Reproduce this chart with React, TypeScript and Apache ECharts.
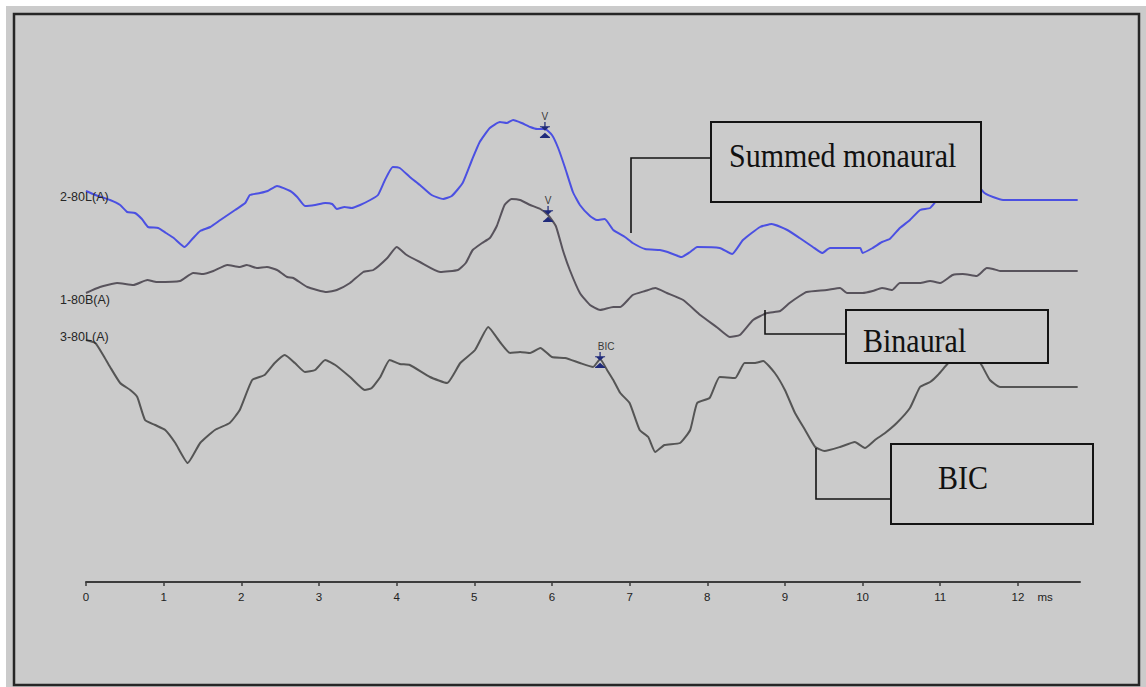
import React, { useEffect, useRef } from "react";
import * as echarts from "echarts";

// time (ms) ticks shown on the axis
const TICKS: number[] = [0, 1, 2, 3, 4, 5, 6, 7, 8, 9, 10, 11, 12];
const UNIT_LABEL = "ms";

// Each trace: [time in ms, vertical position (display units above the time axis)]
const summedMonaural: [number, number][] = [
  [0, 391], [0.12, 387], [0.31, 382], [0.44, 377], [0.53, 370], [0.63, 369], [0.72, 363], [0.8, 355],
  [0.93, 354], [1.03, 349], [1.13, 344], [1.27, 335], [1.38, 344], [1.47, 351], [1.6, 355], [1.73, 362],
  [1.92, 372], [2.05, 379], [2.11, 387], [2.24, 389], [2.34, 391], [2.46, 396], [2.63, 391], [2.72, 385],
  [2.82, 376], [2.95, 377], [3.08, 379], [3.17, 378], [3.23, 373], [3.33, 375], [3.42, 374], [3.53, 377],
  [3.66, 382], [3.76, 387], [3.85, 402], [3.95, 415], [4.04, 414], [4.17, 405], [4.3, 397], [4.45, 387],
  [4.6, 383], [4.71, 386], [4.85, 399], [4.97, 422], [5.07, 440], [5.2, 454], [5.33, 460], [5.42, 459],
  [5.5, 462], [5.61, 459], [5.72, 455], [5.81, 453], [5.91, 453], [6.0, 447], [6.08, 434], [6.17, 414],
  [6.27, 390], [6.36, 377], [6.49, 366], [6.58, 362], [6.68, 363], [6.79, 352], [6.94, 345], [7.04, 339],
  [7.2, 333], [7.39, 332], [7.49, 330], [7.67, 325], [7.78, 330], [7.87, 335], [8.16, 334], [8.32, 328],
  [8.46, 342], [8.68, 355], [8.83, 358], [9.03, 352], [9.19, 344], [9.36, 335], [9.48, 329], [9.58, 334],
  [9.97, 334], [10.0, 329], [10.13, 334], [10.25, 340], [10.35, 343], [10.48, 354], [10.61, 362], [10.74, 372],
  [10.87, 374], [10.96, 382], [11.12, 390], [11.32, 396], [11.48, 396], [11.57, 389], [11.68, 385], [11.81, 382],
  [12.77, 382],
];

const binaural: [number, number][] = [
  [0, 289], [0.18, 295], [0.4, 299], [0.61, 297], [0.79, 302], [0.91, 300], [1.21, 301], [1.38, 309],
  [1.51, 308], [1.64, 311], [1.82, 317], [1.98, 315], [2.07, 317], [2.2, 314], [2.33, 315], [2.46, 312],
  [2.59, 305], [2.67, 304], [2.85, 295], [3.1, 290], [3.23, 292], [3.4, 299], [3.57, 310], [3.7, 312],
  [3.88, 324], [4.0, 335], [4.13, 327], [4.3, 320], [4.56, 310], [4.79, 312], [4.89, 319], [4.98, 332],
  [5.1, 339], [5.2, 344], [5.29, 356], [5.39, 377], [5.48, 383], [5.59, 382], [5.72, 377], [5.85, 373],
  [5.95, 367], [6.05, 356], [6.14, 332], [6.23, 312], [6.36, 289], [6.49, 277], [6.62, 272], [6.79, 275],
  [6.88, 275], [7.04, 287], [7.2, 291], [7.33, 294], [7.48, 289], [7.69, 282], [7.91, 267], [8.12, 255],
  [8.29, 245], [8.42, 247], [8.59, 262], [8.77, 269], [8.94, 271], [9.06, 279], [9.19, 286], [9.28, 290],
  [9.54, 292], [9.71, 294], [9.8, 289], [10.0, 289], [10.13, 291], [10.25, 294], [10.38, 292], [10.48, 299],
  [10.74, 299], [10.87, 301], [11.0, 299], [11.16, 307], [11.29, 308], [11.47, 306], [11.6, 314], [11.68, 313],
  [11.77, 311], [12.77, 311],
];

const bic: [number, number][] = [
  [0, 242], [0.12, 239], [0.22, 227], [0.31, 215], [0.44, 199], [0.57, 192], [0.66, 185], [0.76, 162],
  [0.89, 157], [1.02, 152], [1.15, 139], [1.31, 119], [1.47, 139], [1.66, 152], [1.85, 159], [1.98, 172],
  [2.14, 202], [2.3, 207], [2.43, 219], [2.56, 227], [2.69, 219], [2.82, 210], [2.95, 212], [3.08, 222],
  [3.21, 217], [3.4, 205], [3.59, 192], [3.68, 194], [3.79, 205], [3.91, 222], [4.04, 218], [4.17, 217],
  [4.43, 205], [4.65, 199], [4.82, 219], [5.01, 232], [5.18, 255], [5.33, 240], [5.46, 229], [5.59, 230],
  [5.72, 229], [5.85, 234], [6.0, 225], [6.17, 224], [6.36, 219], [6.53, 215], [6.62, 223], [6.71, 212],
  [6.79, 202], [6.88, 189], [7.0, 179], [7.13, 152], [7.24, 145], [7.33, 130], [7.45, 137], [7.65, 139],
  [7.78, 152], [7.87, 179], [8.03, 184], [8.16, 205], [8.36, 204], [8.48, 219], [8.61, 219], [8.72, 221],
  [8.87, 209], [9.0, 192], [9.13, 169], [9.26, 152], [9.39, 135], [9.51, 131], [9.71, 135], [9.9, 140],
  [10.03, 134], [10.16, 142], [10.29, 149], [10.44, 159], [10.61, 174], [10.74, 195], [10.87, 200], [10.97, 207],
  [11.07, 216], [11.19, 226], [11.32, 230], [11.45, 226], [11.54, 216], [11.64, 202], [11.77, 195], [12.77, 195],
];

// peak markers: [time, position, label]
const summedMarks: [number, number, string][] = [[5.91, 452, "V"]];
const binauralMarks: [number, number, string][] = [[5.95, 368, "V"]];
const bicMarks: [number, number, string][] = [[6.62, 222, "BIC"]];

const traceNames = ["2-80L(A)", "1-80B(A)", "3-80L(A)"];
const boxLabels = ["Summed monaural", "Binaural", "BIC"];

const MARK_PATH =
  "path://M4.5 0H5.5V4H4.5Z M1 4H9V5.2H1Z M2 5.2H8L5 8.5Z M5 10.5L8.5 14.3H1.5Z M1 14.3H9V15.5H1Z";

function marks(list: [number, number, string][], dx: number) {
  return {
    symbol: MARK_PATH,
    symbolSize: [10, 16],
    itemStyle: { color: "#1f2a7a" },
    label: {
      show: true,
      position: "top",
      distance: 1,
      offset: [dx, 0],
      formatter: "{b}",
      fontFamily: "Liberation Sans, Arial, sans-serif",
      fontSize: 10,
      color: "#3a3a3a",
    },
    data: list.map(([t, v, name]) => ({ coord: [t, v], name })),
  };
}

export default function App() {
  const ref = useRef<HTMLDivElement>(null);
  useEffect(() => {
    if (!ref.current) return;
    const chart = echarts.init(ref.current, undefined, { renderer: "svg" });
    const serif = "Liberation Serif, Times New Roman, serif";
    const sans = "Liberation Sans, Arial, sans-serif";
    const boxStyle = { fill: "#cbcbcb", stroke: "#141414", lineWidth: 2 };
    const connStyle = { stroke: "#141414", lineWidth: 1.6, fill: "none" };
    const boxText = (x: number, y: number, text: string) => ({
      type: "text",
      x,
      y,
      scaleY: 1.15,
      z: 101,
      style: { text, fontFamily: serif, fontSize: 30, fill: "#111", verticalAlign: "middle", textAlign: "left" },
    });
    const traceText = (y: number, text: string) => ({
      type: "text",
      x: 60,
      y,
      z: 50,
      style: { text, fontFamily: sans, fontSize: 12.5, fill: "#262626", verticalAlign: "middle", textAlign: "left" },
    });
    const labelValues = [...TICKS, 12.35];
    chart.setOption({
      animation: false,
      backgroundColor: "#ffffff",
      grid: { left: 86, right: 66, top: 82, bottom: 105 },
      xAxis: {
        type: "value",
        min: 0,
        max: 12.8,
        interval: 1,
        splitLine: { show: false },
        axisLine: { show: true, onZero: false, lineStyle: { color: "#3c3c3c", width: 2 } },
        axisTick: { show: true, inside: false, length: 4, customValues: TICKS, lineStyle: { color: "#3c3c3c", width: 1.5 } },
        axisLabel: {
          customValues: labelValues,
          formatter: (v: number) => (Math.abs(v - 12.35) < 1e-6 ? UNIT_LABEL : String(v)),
          fontFamily: sans,
          fontSize: 11.5,
          color: "#222",
          margin: 9,
        },
      },
      yAxis: { type: "value", min: 0, max: 500, show: false },
      series: [
        {
          type: "line",
          data: summedMonaural,
          showSymbol: false,
          smooth: 0.15,
          lineStyle: { color: "#4b50e2", width: 2 },
          z: 3,
          markPoint: marks(summedMarks, 0),
        },
        {
          type: "line",
          data: binaural,
          showSymbol: false,
          smooth: 0.15,
          lineStyle: { color: "#58535c", width: 2 },
          z: 3,
          markPoint: marks(binauralMarks, 0),
        },
        {
          type: "line",
          data: bic,
          showSymbol: false,
          smooth: 0.15,
          lineStyle: { color: "#555555", width: 2 },
          z: 3,
          markPoint: marks(bicMarks, 6),
        },
      ],
      graphic: [
        { type: "rect", z: -10, shape: { x: 6, y: 6, width: 1140, height: 681 }, style: { fill: "#cbcbcb" } },
        { type: "rect", z: -9, shape: { x: 14, y: 14, width: 1125, height: 671 }, style: { fill: "none", stroke: "#262626", lineWidth: 2.5 } },
        traceText(197, traceNames[0]),
        traceText(300, traceNames[1]),
        traceText(337, traceNames[2]),
        // Summed monaural annotation
        { type: "polyline", z: 100, shape: { points: [[711, 158], [631, 158], [631, 233]] }, style: connStyle },
        { type: "rect", z: 100, shape: { x: 711, y: 122, width: 270, height: 80 }, style: boxStyle },
        boxText(729, 155, boxLabels[0]),
        // Binaural annotation
        { type: "polyline", z: 100, shape: { points: [[846, 334], [765, 334], [765, 310]] }, style: connStyle },
        { type: "rect", z: 100, shape: { x: 846, y: 310, width: 202, height: 53 }, style: boxStyle },
        boxText(863, 340, boxLabels[1]),
        // BIC annotation
        { type: "polyline", z: 100, shape: { points: [[891, 499], [816, 499], [816, 448]] }, style: connStyle },
        { type: "rect", z: 100, shape: { x: 891, y: 444, width: 202, height: 80 }, style: boxStyle },
        boxText(938, 477, boxLabels[2]),
      ],
    });
    return () => chart.dispose();
  }, []);
  return <div ref={ref} style={{ position: "fixed", left: 0, top: 0, width: 1146, height: 687 }} />;
}
